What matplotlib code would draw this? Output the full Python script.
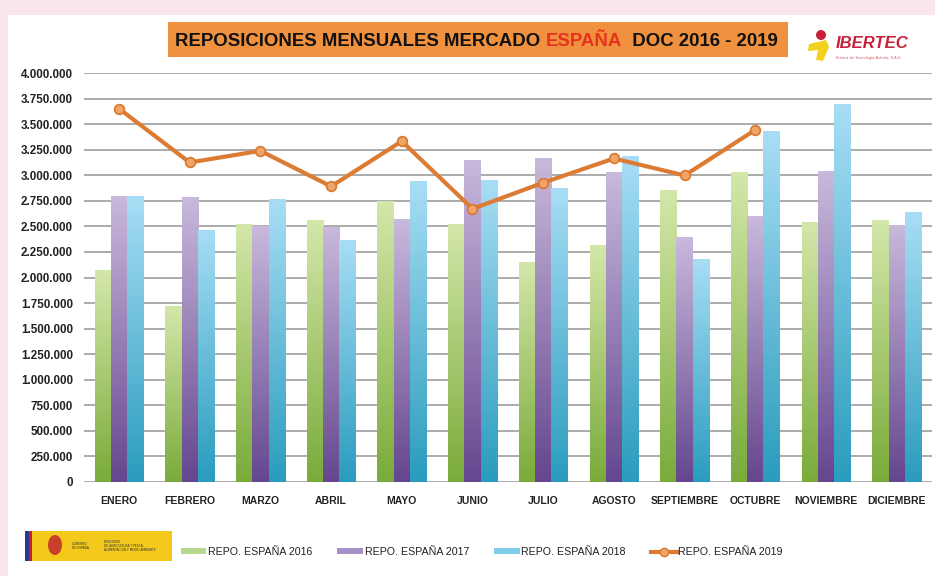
import numpy as np
import matplotlib
matplotlib.use("Agg")
import matplotlib.pyplot as plt
from matplotlib.patches import Rectangle, Polygon, Circle, Ellipse
from matplotlib.lines import Line2D
from matplotlib.colors import LinearSegmentedColormap
from matplotlib.ticker import FuncFormatter, MultipleLocator

months = ["ENERO", "FEBRERO", "MARZO", "ABRIL", "MAYO", "JUNIO", "JULIO",
          "AGOSTO", "SEPTIEMBRE", "OCTUBRE", "NOVIEMBRE", "DICIEMBRE"]
repo_2016 = [2070000, 1719000, 2526000, 2559000, 2747000, 2526000, 2151000,
             2321000, 2852000, 3027000, 2539000, 2559000]
repo_2017 = [2796000, 2786000, 2507000, 2493000, 2568000, 3151000, 3171000,
             3027000, 2396000, 2601000, 3040000, 2516000]
repo_2018 = [2796000, 2468000, 2767000, 2370000, 2946000, 2956000, 2874000,
             3190000, 2184000, 3431000, 3701000, 2640000]
repo_2019 = [3652000, 3125000, 3239000, 2891000, 3333000, 2672000, 2927000,
             3164000, 2998000, 3444000]
series_labels = ["REPO. ESPAÑA 2016", "REPO. ESPAÑA 2017",
                 "REPO. ESPAÑA 2018", "REPO. ESPAÑA 2019"]

W, H = 935, 576
fig = plt.figure(figsize=(W / 100, H / 100), dpi=100)
fig.patch.set_facecolor("#f9e7ec")

# background / decoration layer in pixel coordinates
bg = fig.add_axes([0, 0, 1, 1], zorder=-1)
bg.set_xlim(0, W)
bg.set_ylim(H, 0)
bg.axis("off")
bg.add_patch(Rectangle((8, 15), W, H, facecolor="white", edgecolor="none"))

# Title box
bg.add_patch(Rectangle((168, 22), 620, 35, facecolor="#f0913f", edgecolor="none"))
tfont = dict(fontsize=13.4, fontweight="bold", family=["Liberation Sans", "DejaVu Sans"])
t1 = bg.text(175, 46, "REPOSICIONES MENSUALES MERCADO ", color="#111111",
             ha="left", va="baseline", **tfont)
t2 = bg.annotate("ESPAÑA", xy=(1, 0), xycoords=t1, va="bottom", ha="left",
                 color="#e8321e", **tfont)
t3 = bg.annotate("  DOC 2016 - 2019", xy=(1, 0), xycoords=t2, va="bottom", ha="left",
                 color="#111111", **tfont)

# IBERTEC logo
bg.add_patch(Polygon([(809, 44), (826, 40), (829, 47), (823, 61), (816, 60),
                      (818, 50), (808, 51)], closed=True,
                     facecolor="#f2d21f", edgecolor="none"))
bg.add_patch(Circle((821, 35), 5, facecolor="#c8203a", edgecolor="none"))
bg.text(836, 43, "IBERTEC", color="#c8203a", fontsize=12, fontweight="bold",
        fontstyle="italic", ha="left", va="center", family=["Liberation Sans", "DejaVu Sans"])
bg.text(836, 58, "Ibérica de Tecnología Avícola, S.A.U.", color="#c85a6a",
        fontsize=2.6, ha="left", va="center")

# Ministry logo
bg.add_patch(Rectangle((25, 531), 147, 30, facecolor="#f3c91c", edgecolor="none"))
bg.add_patch(Rectangle((25, 531), 4, 30, facecolor="#2a3b8f", edgecolor="none"))
bg.add_patch(Rectangle((29, 531), 3, 30, facecolor="#c8202a", edgecolor="none"))
bg.add_patch(Ellipse((55, 545), 14, 20, facecolor="#c8402a", edgecolor="none"))
bg.text(72, 546, "GOBIERNO\nDE ESPAÑA", fontsize=2.2, ha="left", va="center",
        color="#333333", linespacing=1.1)
bg.text(104, 546, "MINISTERIO\nDE AGRICULTURA Y PESCA,\nALIMENTACIÓN Y MEDIO AMBIENTE",
        fontsize=2.2, ha="left", va="center", color="#333333", linespacing=1.1)

# Main chart
ax = fig.add_axes([83.6 / W, 1 - 482 / H, 848.5 / W, 409 / H], zorder=1)
ax.set_facecolor("none")
x = np.arange(len(months))
bw = 0.23
grads = [("#7aab3a", "#d4e7aa"), ("#65468f", "#c9b9dc"), ("#2a9cbd", "#a8def5")]
for i, (vals, (c0, c1)) in enumerate(zip([repo_2016, repo_2017, repo_2018], grads)):
    bars = ax.bar(x + (i - 1) * bw, vals, width=bw, color=c1, edgecolor="none", zorder=2)
    cmap = LinearSegmentedColormap.from_list("g%d" % i, [c0, c1])
    grad = np.linspace(1, 0, 256).reshape(-1, 1)
    for b in bars:
        x0, w_, h_ = b.get_x(), b.get_width(), b.get_height()
        im = ax.imshow(grad, extent=(x0, x0 + w_, 0, h_), aspect="auto",
                       cmap=cmap, vmin=0, vmax=1, zorder=3, interpolation="bicubic")
        im.set_clip_path(b)

ax.plot(x[:len(repo_2019)], repo_2019, color="#dc7c34", lw=3, marker="o",
        markersize=7, markerfacecolor="#f0a466", markeredgecolor="#d9772e",
        markeredgewidth=1.2, zorder=5, solid_joinstyle="round")

ax.set_xlim(-0.5, 11.5)
ax.set_ylim(0, 4000000)
ax.yaxis.set_major_locator(MultipleLocator(250000))
ax.yaxis.set_major_formatter(FuncFormatter(lambda v, p: f"{int(v):,}".replace(",", ".")))
ax.grid(axis="y", color="#ababab", lw=1.4, zorder=1)
ax.set_axisbelow(True)
for s in ax.spines.values():
    s.set_visible(False)
ax.set_xticks(x)
ax.set_xticklabels(months)
ax.tick_params(length=0)
ax.tick_params(axis="y", pad=7.6)
ax.tick_params(axis="x", pad=10)
for lab in ax.get_xticklabels():
    lab.set_fontweight("bold")
    lab.set_fontsize(7.5)
    lab.set_family(["Liberation Sans", "DejaVu Sans"])
    lab.set_color("#222222")
for lab in ax.get_yticklabels():
    lab.set_fontweight("bold")
    lab.set_fontsize(8.4)
    lab.set_family(["Liberation Sans", "DejaVu Sans"])
    lab.set_color("#222222")

# Legend
handles = [Rectangle((0, 0), 1, 1, facecolor="#b6d88c", edgecolor="none"),
           Rectangle((0, 0), 1, 1, facecolor="#a690c8", edgecolor="none"),
           Rectangle((0, 0), 1, 1, facecolor="#7fcde8", edgecolor="none"),
           Line2D([], [], color="#dc7c34", lw=3, marker="o", markersize=6,
                  markerfacecolor="#f0a466", markeredgecolor="#d9772e")]
leg = fig.legend(handles, series_labels, ncol=4, loc="center left",
                 bbox_to_anchor=(171 / W, 1 - 552 / H), frameon=False,
                 handlelength=2.4, handleheight=0.45, handletextpad=0.15, columnspacing=2.35,
                 prop=dict(family=["Liberation Sans", "DejaVu Sans"], size=7.7))
for t in leg.get_texts():
    t.set_color("#222222")

fig.savefig("out.png", dpi=100, facecolor=fig.get_facecolor())
